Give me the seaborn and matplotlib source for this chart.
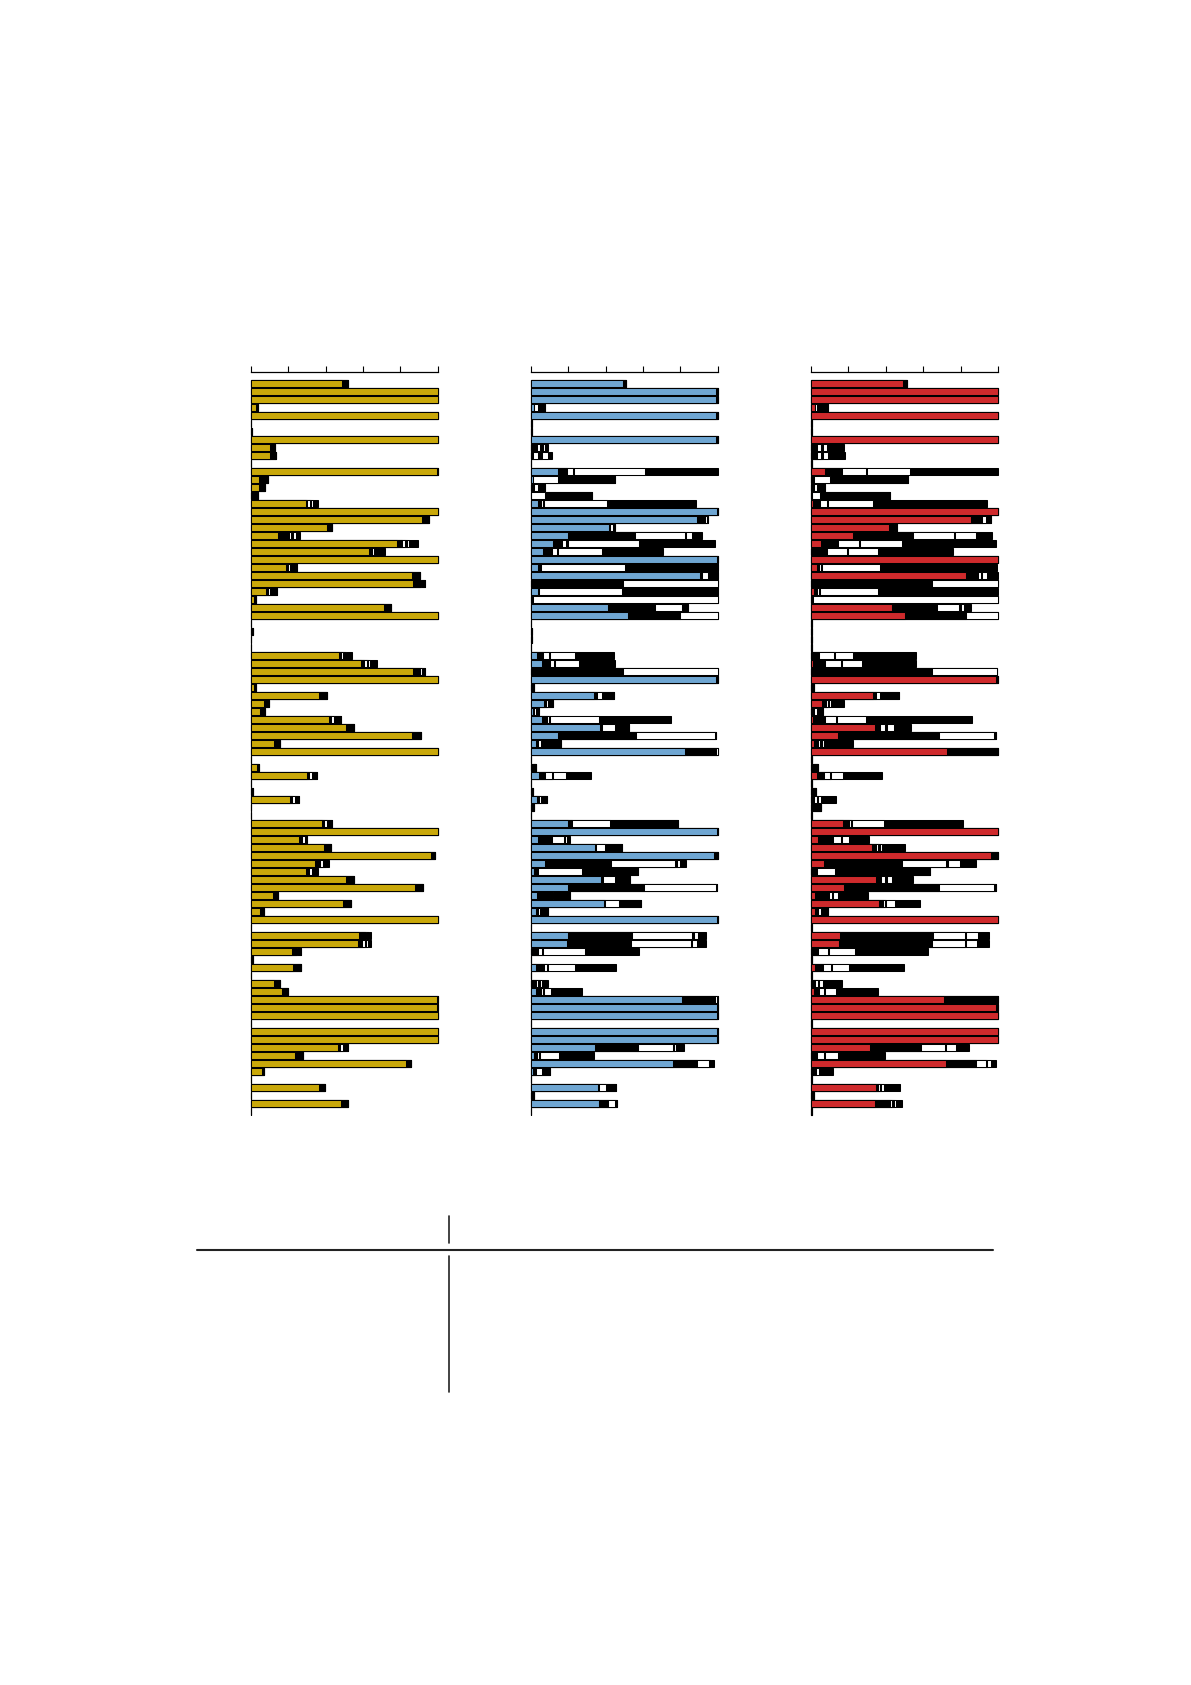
import matplotlib
matplotlib.use("Agg")
import matplotlib.pyplot as plt
from matplotlib.lines import Line2D
import numpy as np
import seaborn as sns

sns.set_style("white")
plt.rcParams['font.family'] = ['DejaVu Sans']

# ---------------- data (percent, 92 rows, 3 panels) ----------------
rows = [f"r{i:02d}" for i in range(1, 93)]
x_ticks = [0, 20, 40, 60, 80, 100]

# left panel (gold)
L_main = [49,100,100,2.6,100,0,0,100,10.5,10.5,
          0,99.5,4.5,4.5,0,29.6,100,91.6,40.6,14.4,
          78.5,63.4,100,18.8,86.4,87,8.4,1.8,71.2,100,
          0,0,0,0,47,59,87,100,1.8,36.6,
          7.3,5.2,41.9,51,86.4,12.3,100,0,3.4,30,
          0,0,21,0,0,38,100,25.7,39.3,96.3,
          34.6,29.6,51,87.7,11.8,49.2,5.2,100,0,58,
          57.6,22.3,0,22.8,0,12.3,16.5,99.5,99.5,100,
          0,100,100,46.6,23.6,83,6,0,36.6,0,
          48.4,0]
L_k1 = [3,0,0,1.5,0,0.4,0.6,0,2.6,3,
        0,0.5,4.7,2.9,4,0.5,0,4,2.9,6,
        2.5,1.3,0,1.3,4,3.4,1,1,4,0,
        0.4,1.2,0.3,0.3,1.3,1.8,3.4,0,1.3,4,
        2.6,2.6,1.3,4,4.7,3.4,0,0.3,1,1.3,
        0.3,1.3,1.3,0.3,0.3,1.3,0,1.8,3.4,2.4,
        2.6,1.8,4.5,4.7,2.6,4.7,2.1,0,0.3,2.9,
        2.1,1.8,1,4.2,0.3,3.4,3.7,0.5,0.5,0,
        0.3,0,0,1.3,4.5,2.6,1.3,0.3,3.1,0.3,
        3.4,0.3]
L_w1 = [0,0,0,0,0,0,0,0,0,0,
        0,0,0,0,0,1.5,0,0,0,1.2,
        1.5,1.2,0,1,0,0.8,1,0,0,0,
        0,0,0,0,1.3,1.3,1.3,0,0,0,
        0,0,1.3,0,0,0,0,0,0,1.3,
        0,0,1.3,0,0,1.3,0,1.3,0,0,
        1.3,1.3,0,0,0,0,0,0,0,1,
        1.3,0.8,0,0,0,0,0,0,0,0,
        0,0,0,1.3,0,0,0,0,0,0,
        0,0]
L_k2 = [0,0,0,0,0,0,0,0,0,0,
        0,0,0,0,0,0.8,0,0,0,1.2,
        1,1,0,3.7,0,1.8,3.5,0,0,0,
        0,0,0,0,0.8,0.8,1.3,0,0,0,
        0,0,4,0,0,0,0,0,0,3.1,
        0,0,2,0,0,3.1,0,1.3,0,0,
        1,0.8,0,0,0,0,0,0,0,0.8,
        0.8,2.1,0,0,0,0,0,0,0,0,
        0,0,0,2.6,0,0,0,0,0,0,
        0,0]
L_w2 = [0,0,0,0,0,0,0,0,0,0,
        0,0,0,0,0,1,0,0,0,1.5,
        1,0.8,0,0,0,0,0,0,0,0,
        0,0,0,0,0.5,0.8,0,0,0,0,
        0,0,0,0,0,0,0,0,0,0,
        0,0,0,0,0,0,0,0,0,0,
        1,0.5,0,0,0,0,0,0,0,0.8,
        1,0,0,0,0,0,0,0,0,0,
        0,0,0,0,0,0,0,0,0,0,
        0,0]
L_k3 = [0,0,0,0,0,0,0,0,0,0,
        0,0,0,0,0,2.5,0,0,0,2,
        5,4.3,0,0,0,0,0,0,0,0,
        0,0,0,0,3.5,4,0,0,0,0,
        0,0,0,0,0,0,0,0,0,0,
        0,0,0,0,0,0,0,0,0,0,
        1.3,2,0,0,0,0,0,0,0,1,
        1.3,0,0,0,0,0,0,0,0,0,
        0,0,0,0,0,0,0,0,0,0,
        0,0]

# middle panel (blue)
M_main = [49.5,99.3,99.3,2,99.3,0,0,99.3,0,0,
          0,14.5,1,0.8,0,3.7,99.5,89,42,20,
          11.8,6.6,99.5,3.7,90.3,0,3.7,0,41.6,52,
          0,0,0,0,3.4,6,0,99,0,34,
          7.3,1,6,36.8,14.7,2.9,82.4,0,0,4.7,
          0,0,3.4,0,0,19.7,99.5,4,34.2,98.2,
          7.9,2,37.6,19.7,3.4,39,2.9,99.5,0,20,
          19.2,0.5,0,2.6,0,0,2.9,81,99.5,99.5,
          0,99.5,99.5,34.5,1.5,76.3,1.3,0,35.8,0,
          36.3,0]
M_k1 = [1.3,0.7,0.7,0,0.7,0.6,0.8,0.7,3.4,1,
        0.4,4.7,0,0.8,0,1.6,0.5,4,0.5,36,
        4.7,4.7,0.5,2,1.3,49.5,0.8,1.3,25,27.6,
        0.4,0.8,0.8,0.4,3.4,4.5,49.5,1,1.5,1.3,
        0.8,1,2.6,1.3,41.8,1,16.6,0.3,2.6,3.1,
        0.3,1,0.8,1.5,0.3,2.6,0.5,7.4,0.8,1.8,
        35,1.8,1.3,40.8,7.9,0.8,1,0.5,0.3,34,
        34.2,3.5,0.3,4.7,0.3,2.9,2.4,17.6,0.5,0.5,
        0.3,0.5,0.5,23,1.8,12.6,1.3,0.3,0.8,1.5,
        5.3,0.3]
M_w1 = [0,0,0,2,0,0,0,0,1.8,3,
        0,3.4,13.4,2.4,7.4,1.3,0,1.3,1.3,26.3,
        2.6,2.6,0,44.5,3.4,50.5,44.2,98.7,14.5,20.3,
        0,0,0,0,3.2,2,50.5,0,0,2.6,
        1.3,0.8,1.3,6.8,42,1.6,1,0,0,3.4,
        0,0,1.3,0,0,20,0,6.3,4.5,0,
        34.2,23.7,6,38.4,0.5,7.6,1.3,0,0,32.4,
        32.4,2,0,1.3,0,1,1.3,0.8,0,0,
        0,0,0,18.4,1.3,6.3,3.4,0,3.7,0,
        3.4,0]
M_k2 = [0,0,0,3.5,0,0,0,0,1.3,2,
        0,0.3,30.5,3.4,25.5,0.5,0,0.5,1.3,1,
        1,0.5,0,49.7,5,0,51.3,0,3.2,0,
        0,0,0,0,0.5,0.5,0,0,0,6.8,
        2.4,1.8,0.5,7.9,0.8,10.5,0,0,0,0.8,
        0,0,3.1,0,0,36.6,0,0.8,9.5,0,
        1,29.7,8.4,0.5,9.2,11.8,4,0,0,0.8,
        0.5,0.5,0,0.5,0,1,0.5,0.6,0,0,
        0,0,0,0.8,0.5,0.8,4.5,0,5.3,0,
        1.3,0]
M_w2 = [0,0,0,0,0,0,0,0,1.3,3,
        0,38,0,0,0,33.5,0,0,0,2.9,
        37.9,23.7,0,0,0,0,0,0,0,0,
        0,0,0,0,13,13,0,0,0,0,
        0,0,26.3,0,0,0,0,0,0,7,
        0,0,0,0,0,0,0,1,0,0,
        1.6,0,0,0,0,0,0,0,0,2.4,
        2.6,22.3,0,14.5,0,1,3.7,0,0,0,
        0,0,0,1,10,0.5,0,0,0,0,
        0,0]
M_k3 = [0,0,0,0,0,0,0,0,1.6,2.5,
        0,39,0,0,0,48,0,0,0,5.3,
        40.5,32.4,0,0,0,0,0,0,0,0,
        0,0,0,0,21,19,0,0,0,0,
        0,0,38.2,0,0,0,0,0,0,13,
        0,0,0,0,0,0,0,1.5,0,0,
        3.2,0,0,0,0,0,0,0,0,4.2,
        4.7,29.2,0,21.8,0,3.5,16.8,0,0,0,
        0,0,0,4.2,19,1.5,0,0,0,0,
        0,0]

# right panel (red)
R_main = [49,100,100,2,100,0,0,100,0,0,
          0.4,7.6,0.8,0,0.3,1,100,85.6,41.6,22.3,
          5.2,0.8,100,3,83,0,1.8,0,43.2,50.3,
          0,0,0.5,0,0,1.3,0,98.7,0,33.2,
          5.8,0.8,1.3,34,14.4,1.8,72.5,0.3,0,3,
          0.3,0.5,0,0,0,17,100,3.7,32.5,96,
          7,0.5,35,17.5,2.4,36.4,2.4,100,0,15.4,
          15,0,0.3,2.4,0,0,1.8,71.2,98.7,100,
          0,100,100,31.4,0,72,0,0,35,0,
          34,0]
R_k1 = [2.5,0,0,0,0,0.5,0.6,0,3,3,
        0,9.2,1,1.8,0,4,0,6,2,32.5,
        9.2,8,0,1.3,6.5,64.7,1.3,1.3,24,32.7,
        0.4,0.5,0,0.3,4.5,6.3,64.7,1.3,1.8,1.8,
        2,1,6.3,3.1,54.2,1.8,27.5,0,3.7,4,
        0,2,1.5,5.2,0.3,3.1,0,7.9,2.1,4,
        41.4,2.5,2.6,51,7.3,2,1.3,0,0.3,49.7,
        49.7,3.7,0,4,0.3,2.4,2.6,28.8,1.3,0,
        0.3,0,0,27.5,3,16.2,1,0.3,0.8,1.8,
        8.5,0.3]
R_w1 = [0,0,0,1.3,0,0,0,0,2.6,2.6,
        0,12.6,8.6,1.3,4.5,3.7,0,1.8,1,21.7,
        11.5,10.5,0,1.3,1.3,35.3,1.3,98.7,11.8,17,
        0,0,0,0,7.9,8.6,34.8,0,0,1.8,
        1.3,1.3,6,2.6,29.3,1.3,0,0,0,3.4,
        0,0,1.5,0,0,1.3,0,4.7,1.3,0,
        24,9.7,2,29.3,1.3,1.3,1.6,0,0,17.3,
        17.5,5.5,0,4.2,0,1.3,2.6,0,0,0,
        0,0,0,12.8,4,5.2,0.8,0,1.3,0,
        1,0]
R_k2 = [0,0,0,6,0,0,0,0,0.8,1,
        0,0.3,41.6,4.5,37.4,0.5,0,2.6,1.6,0.3,
        0.3,0.5,0,0.5,0.8,0,0.5,0,1,0,
        0,0,0,0,0.5,0.5,0,0,0,10.2,
        0.5,3.4,0.5,0.8,1,0.8,0,0,0,0.5,
        0,0,1,0,0,0.5,0,0.5,0.8,0,
        0.8,51,0.8,1,0.5,0.5,4,0,0,0.5,
        0.5,0.5,0,0.5,0,0.5,0.5,0,0,0,
        0,0,0,0.5,0.5,0.8,0.8,0,0.5,0,
        0.8,0]
R_w2 = [0,0,0,0,0,0,0,0,2.4,2.4,
        0,23.3,0,0,0,24,0,0,0,11.5,
        22.5,16,0,31,2.4,0,31,0,1.6,0,
        0,0,0,0,9.4,10.5,0,0,0,0,
        1.3,0,15.2,3.7,0,1.3,0,0,0,6,
        0,0,1.5,0,0,17.3,0,3.4,1.3,0,
        6.5,0,3.1,0,2.9,4.7,0,0,0,6.5,
        6.3,13.6,0,9.2,0,2.4,6,0,0,0,
        0,0,0,5.5,6.8,1.8,1.8,0,1.6,0,
        1,0]
R_k3 = [0,0,0,0,0,0,0,0,9,9,
        0,47,0,0,0,60.7,0,0,0,8.4,
        50.3,40,0,62.5,6,0,64,0,4,0,
        0,0,0,0,33.8,28.8,0,0,0,0,
        6.5,0,56.8,9.4,0,15.7,0,0,0,21,
        0,0,8,0,0,42,0,11,12.3,0,
        8.4,0,11,0,16.2,13.6,0,0,0,5.8,
        6.3,39.5,0,29.3,0,10.2,22.3,0,0,0,
        0,0,0,6.8,25.4,3.1,7.3,0,8.4,0,
        3.5,0]

panel_colors = ["#C9A80A", "#6FA6D2", "#CF2A2C"]
panels = [
    [L_main, L_k1, L_w1, L_k2, L_w2, L_k3],
    [M_main, M_k1, M_w1, M_k2, M_w2, M_k3],
    [R_main, R_k1, R_w1, R_k2, R_w2, R_k3],
]

# ---------------- figure ----------------
W, H = 1191, 1685
fig = plt.figure(figsize=(W / 100, H / 100), dpi=100)
fig.patch.set_facecolor("white")

ax_lefts_px = [250.7, 530.7, 811.0]
ax_w_px = 187.0
ax_top_px, ax_bot_px = 372.3, 1115.8

for left_px, segs, col in zip(ax_lefts_px, panels, panel_colors):
    ax = fig.add_axes([left_px / W, 1 - ax_bot_px / H, ax_w_px / W,
                       (ax_bot_px - ax_top_px) / H])
    cum = np.cumsum(np.array(segs, dtype=float), axis=0)
    cum = np.minimum(cum, 100.0)
    seg_colors = [col, "black", "white", "black", "white", "black"]
    # draw from the outermost cumulative layer inward
    for k in range(5, -1, -1):
        sns.barplot(x=list(cum[k]), y=rows, order=rows, orient="y",
                    color=seg_colors[k], saturation=1, width=0.875,
                    edgecolor="black", linewidth=0.75, errorbar=None, ax=ax)
    for p in ax.patches:
        p.set_clip_on(False)
    ax.set_xlim(0, 100)
    ax.set_ylim(91.5, -1.44)
    ax.set_xlabel("")
    ax.set_ylabel("")
    ax.set_yticks([])
    ax.xaxis.tick_top()
    ax.set_xticks(x_ticks)
    ax.tick_params(axis="x", direction="out", length=4.5, width=0.8,
                   color="black", labeltop=False, labelbottom=False,
                   top=True, bottom=False)
    for side in ["left", "right", "bottom"]:
        ax.spines[side].set_visible(False)
    ax.spines["top"].set_visible(True)
    ax.spines["top"].set_color("black")
    ax.spines["top"].set_linewidth(0.9)
    ax.set_facecolor("none")

# ---------------- table frame below ----------------
line_col = "#222222"
def fx(px):
    return px / W
def fy(py):
    return 1 - py / H

fig.add_artist(Line2D([fx(197), fx(992.5)], [fy(1250), fy(1250)],
                      color=line_col, linewidth=1.5))
fig.add_artist(Line2D([fx(449), fx(449)], [fy(1216), fy(1243)],
                      color=line_col, linewidth=1.2))
fig.add_artist(Line2D([fx(449), fx(449)], [fy(1256), fy(1392)],
                      color=line_col, linewidth=1.2))

fig.savefig("out.png", dpi=100, facecolor="white")
